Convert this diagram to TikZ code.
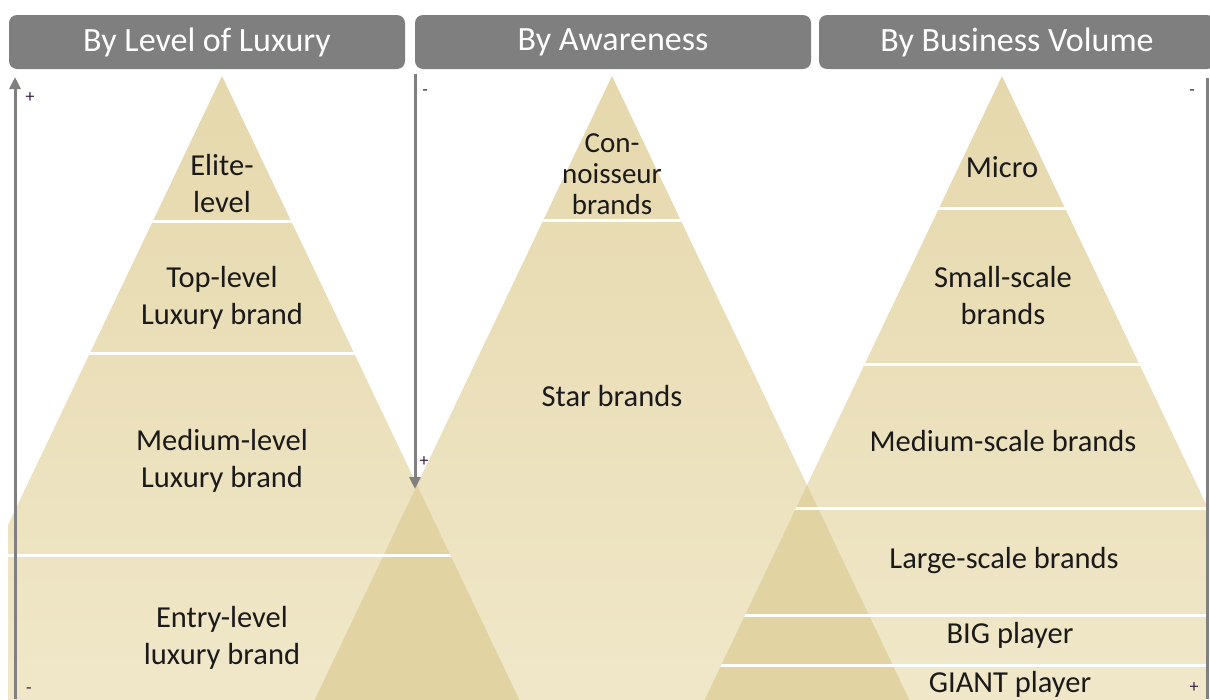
\documentclass[tikz,border=0pt]{standalone}
\usepackage{fontspec}
\setmainfont{Carlito}
\usetikzlibrary{arrows.meta}
\definecolor{hdr}{HTML}{7F7F7F}
\definecolor{tanTop}{HTML}{E6D8AC}
\definecolor{tanBot}{HTML}{F1E9CC}
\definecolor{ovl}{HTML}{E2D3A2}
\definecolor{axisgray}{HTML}{808080}
\definecolor{signc}{HTML}{3C1E46}
\definecolor{txt}{HTML}{1A1A1A}
\begin{document}
\begin{tikzpicture}[x=1pt,y=-1pt,
  header/.style={fill=hdr, rounded corners=8pt, minimum width=396pt, minimum height=54pt,
    text=white, font=\fontsize{34}{40}\selectfont, inner sep=0pt},
  lbl/.style={text=txt, align=center, font=\fontsize{30.5}{37}\selectfont, inner sep=0pt},
  smalllbl/.style={text=txt, align=center, font=\fontsize{29}{31}\selectfont, inner sep=0pt},
  sgn/.style={text=signc, font=\fontsize{18}{18}\selectfont, inner sep=0pt},
  axisline/.style={draw=axisgray, line width=3pt},
  sepline/.style={draw=white, line width=3pt},
  pyr/.style={top color=tanTop, bottom color=tanBot, draw=none},
  ovfill/.style={fill=ovl, draw=none}]
\useasboundingbox (0,0) rectangle (1210,699);

% pyramid corners
\coordinate (LA) at (222,76);  \coordinate (LL) at (-104,760); \coordinate (LR) at (548,760);
\coordinate (MA) at (612,76);  \coordinate (ML) at (286,760);  \coordinate (MR) at (938,760);
\coordinate (RA) at (1002,76); \coordinate (RL) at (676,760);  \coordinate (RR) at (1328,760);

\begin{scope}
  \clip (8,0) rectangle (1206,699);
  \shade[pyr] (LA) -- (LL) -- (LR) -- cycle;
  \shade[pyr] (MA) -- (ML) -- (MR) -- cycle;
  \shade[pyr] (RA) -- (RL) -- (RR) -- cycle;
  % overlaps
  \begin{scope}
    \clip (LA) -- (LL) -- (LR) -- cycle;
    \fill[ovfill] (MA) -- (ML) -- (MR) -- cycle;
  \end{scope}
  \begin{scope}
    \clip (MA) -- (ML) -- (MR) -- cycle;
    \fill[ovfill] (RA) -- (RL) -- (RR) -- cycle;
  \end{scope}
  % separators
  \begin{scope}
    \clip (LA) -- (LL) -- (LR) -- cycle;
    \draw[sepline] (0,221) -- (1210,221);
    \draw[sepline] (0,353) -- (1210,353);
    \draw[sepline] (0,555) -- (1210,555);
  \end{scope}
  \begin{scope}
    \clip (MA) -- (ML) -- (MR) -- cycle;
    \draw[sepline] (0,220) -- (1210,220);
  \end{scope}
  \begin{scope}
    \clip (RA) -- (RL) -- (RR) -- cycle;
    \draw[sepline] (0,208) -- (1210,208);
    \draw[sepline] (0,364) -- (1210,364);
    \draw[sepline] (0,508) -- (1210,508);
    \draw[sepline] (0,615) -- (1210,615);
    \draw[sepline] (0,665) -- (1210,665);
  \end{scope}
\end{scope}

% labels: luxury
\node[lbl] (elite) at (222,184) {Elite-\\level};
\node[lbl] (top) at (222,298) {Top-level\\Luxury brand};
\node[lbl] (medium) at (222,461) {Medium-level\\Luxury brand};
\node[lbl] (entry) at (222,638) {Entry-level\\luxury brand};
% labels: awareness
\node[smalllbl] (conn) at (612,174) {Con-\\noisseur\\brands};
\node[lbl] (star) at (612,396) {Star brands};
% labels: business volume
\node[lbl] (micro) at (1002,167) {Micro};
\node[lbl] (small) at (1003,296) {Small-scale\\brands};
\node[lbl] (mediumsc) at (1003,441) {Medium-scale brands};
\node[lbl] (large) at (1004,561) {Large-scale brands};
\node[lbl] (big) at (1010,635) {BIG player};
\node[lbl] (giant) at (1010,684) {GIANT player};

% axes
\coordinate (la1) at (15,699); \coordinate (la2) at (15,77);
\coordinate (ma1) at (415,74); \coordinate (ma2) at (415,489);
\coordinate (ra1) at (1207,78); \coordinate (ra2) at (1207,699);
\draw[axisline, -{Triangle[length=12pt,width=11pt]}] (la1) -- (la2);
\draw[axisline, -{Triangle[length=12pt,width=11pt]}] (ma1) -- (ma2);
\draw[axisline] (ra1) -- (ra2);

\node[sgn] (lplus) at (30,98) {+};
\node[sgn] (lminus) at (29,691) {-};
\node[sgn] (mminus) at (425,93) {-};
\node[sgn] (mplus) at (424,462) {+};
\node[sgn] (rminus) at (1192,93) {-};
\node[sgn] (rplus) at (1194,688) {+};

% headers
\node[header] (h1) at (207,42) {By Level of Luxury};
\node[header] (h2) at (613,42) {By Awareness};
\node[header] (h3) at (1017,42) {By Business Volume};
\end{tikzpicture}
\end{document}
